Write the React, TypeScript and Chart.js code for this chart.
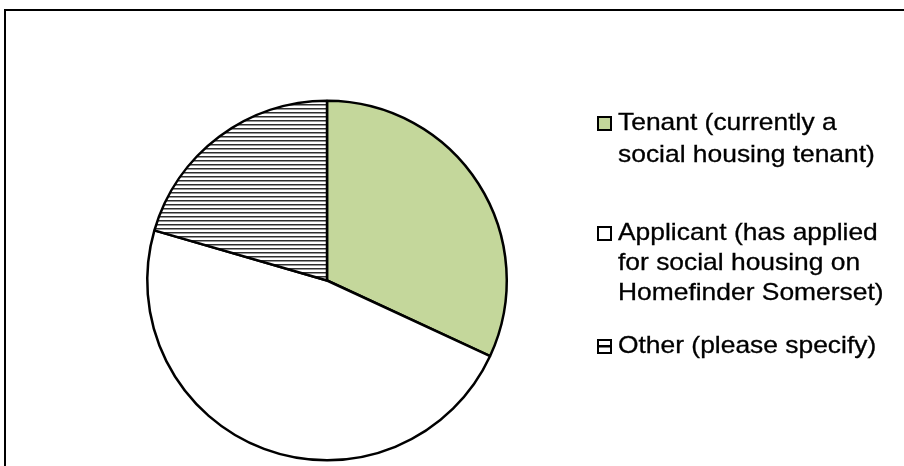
import React, { useEffect, useRef } from "react";
import { Chart, registerables } from "chart.js";

Chart.register(...registerables);

const categories = [
  "Tenant (currently a social housing tenant)",
  "Applicant (has applied for social housing on Homefinder Somerset)",
  "Other (please specify)",
];
const legendLines = [
  ["Tenant (currently a", "social housing tenant)"],
  ["Applicant (has applied", "for social housing on", "Homefinder Somerset)"],
  ["Other (please specify)"],
];
const values = [31.9, 47.6, 20.5];
const legendBaselines = [
  [130, 162],
  [240, 270, 300],
  [353],
];

const GREEN = "#c4d79b";

function makeHatch(): CanvasPattern | string {
  const c = document.createElement("canvas");
  c.width = 8;
  c.height = 4;
  const ctx = c.getContext("2d");
  if (!ctx) return "#ffffff";
  ctx.fillStyle = "#ffffff";
  ctx.fillRect(0, 0, 8, 4);
  ctx.fillStyle = "#2e2e2e";
  ctx.fillRect(0, 0, 8, 1.5);
  const p = ctx.createPattern(c, "repeat");
  return p || "#ffffff";
}

const framePlugin = {
  id: "frame",
  beforeDraw(chart: any) {
    const ctx = chart.ctx;
    ctx.save();
    ctx.fillStyle = "#ffffff";
    ctx.fillRect(0, 0, chart.width, chart.height);
    ctx.strokeStyle = "#000000";
    ctx.lineWidth = 2;
    ctx.beginPath();
    ctx.moveTo(5, chart.height + 5);
    ctx.lineTo(5, 10);
    ctx.lineTo(chart.width + 5, 10);
    ctx.stroke();
    ctx.restore();
  },
};

const legendPlugin = {
  id: "customLegend",
  afterDraw(chart: any) {
    const ctx = chart.ctx;
    const ds = chart.data.datasets[0];
    ctx.save();
    ctx.font = "24px 'Liberation Sans', Arial, sans-serif";
    ctx.textBaseline = "alphabetic";
    legendLines.forEach((lines, i) => {
      const base = legendBaselines[i];
      const mx = 598;
      const my = base[0] - 13;
      ctx.fillStyle = "#ffffff";
      ctx.fillRect(mx, my, 13, 13);
      if (i === 0) {
        ctx.fillStyle = ds.backgroundColor[0];
        ctx.fillRect(mx, my, 13, 13);
      }
      if (i === 2) {
        ctx.fillStyle = "#000000";
        ctx.fillRect(mx, my + 5, 13, 2.5);
      }
      ctx.strokeStyle = "#000000";
      ctx.lineWidth = 2;
      ctx.strokeRect(mx, my, 13, 13);
      ctx.fillStyle = "#000000";
      ctx.strokeStyle = "#000000";
      ctx.lineWidth = 0.3;
      lines.forEach((t, j) => {
        ctx.save();
        ctx.translate(618, base[j]);
        ctx.scale(1.1, 1);
        ctx.fillText(t, 0, 0);
        ctx.strokeText(t, 0, 0);
        ctx.restore();
      });
    });
    ctx.restore();
  },
};

export default function App() {
  const ref = useRef<HTMLCanvasElement | null>(null);
  useEffect(() => {
    if (!ref.current) return;
    const hatch = makeHatch();
    const chart = new Chart(ref.current, {
      type: "pie",
      data: {
        labels: categories,
        datasets: [
          {
            data: values,
            backgroundColor: [GREEN, "#ffffff", hatch as any],
            borderColor: "#000000",
            borderWidth: 2.5,
          },
        ],
      },
      options: {
        responsive: false,
        animation: false,
        layout: { padding: { left: 146, right: 396, top: 99, bottom: 4 } },
        plugins: {
          legend: { display: false },
          tooltip: { enabled: false },
        },
      },
      plugins: [framePlugin, legendPlugin],
    });
    return () => chart.destroy();
  }, []);
  return (
    <div style={{ position: "fixed", left: 0, top: 0, width: 904, height: 466, background: "#fff" }}>
      <canvas ref={ref} width={904} height={466} style={{ display: "block" }} />
    </div>
  );
}
